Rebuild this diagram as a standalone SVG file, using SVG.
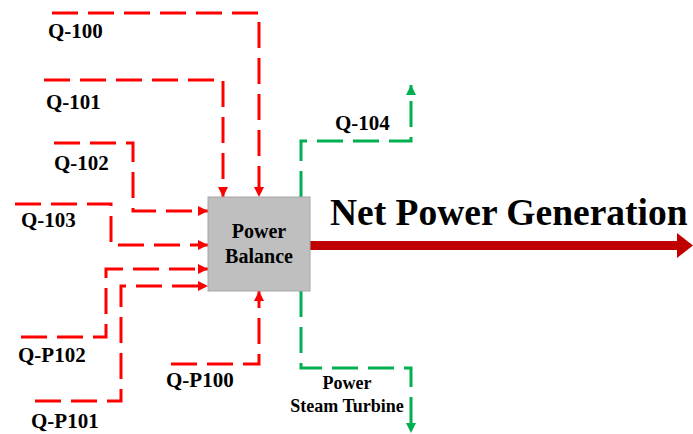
<svg xmlns="http://www.w3.org/2000/svg" width="693" height="434" viewBox="0 0 693 434">
<style>
.lbl{font-family:"Liberation Serif","Times New Roman",serif;font-weight:bold;fill:#000;font-size:21px}
.red{fill:none;stroke:#ff0000;stroke-width:3;stroke-dasharray:26 10}
.grn{fill:none;stroke:#00b050;stroke-width:3;stroke-dasharray:26 10}
</style>
<defs>
<marker id="ar" viewBox="0 0 10 10" refX="10" refY="5" markerWidth="10" markerHeight="10" markerUnits="userSpaceOnUse" orient="auto"><path d="M0,0 L10,5 L0,10 z" fill="#ff0000"/></marker>
<marker id="ag" viewBox="0 0 10 10" refX="10" refY="5" markerWidth="10" markerHeight="10" markerUnits="userSpaceOnUse" orient="auto"><path d="M0,0 L10,5 L0,10 z" fill="#00b050"/></marker>
</defs>
<rect width="693" height="434" fill="#fff"/>
<g id="connectors">
<path id="c-q100" class="red" d="M52,13 H259 V197" marker-end="url(#ar)"/>
<path id="c-q101" class="red" d="M44,80 H223 V197" marker-end="url(#ar)"/>
<path id="c-q102" class="red" d="M54,143 H133 V211 H208" marker-end="url(#ar)"/>
<path id="c-q103" class="red" d="M15,204 H111 V245 H208" marker-end="url(#ar)"/>
<path id="c-qp102" class="red" d="M21,337 H106 V269 H208" marker-end="url(#ar)"/>
<path id="c-qp101" class="red" d="M35,401 H121 V286 H208" marker-end="url(#ar)"/>
<path id="c-qp100" class="red" d="M171,364 H259 V291" marker-end="url(#ar)"/>
<path id="c-q104" class="grn" d="M301,197 V141 H411 V85" marker-end="url(#ag)"/>
<path id="c-steam" class="grn" d="M301,291 V368 H411 V433" marker-end="url(#ag)"/>
<g id="c-net">
<rect x="310" y="241" width="370" height="9" fill="#c00000"/>
<polygon points="677,233 693,245.5 677,258" fill="#c00000"/>
</g>
</g>
<g id="power-balance">
<rect x="208" y="197" width="102" height="94" fill="#bfbfbf" stroke="#a6a6a6" stroke-width="1"/>
<text class="lbl" x="259" y="238" text-anchor="middle" style="font-size:20px">Power</text>
<text class="lbl" x="259" y="263" text-anchor="middle" style="font-size:20px">Balance</text>
</g>
<g id="labels">
<text id="t-q100" class="lbl" x="48" y="38">Q-100</text>
<text id="t-q101" class="lbl" x="46" y="109">Q-101</text>
<text id="t-q102" class="lbl" x="54" y="170">Q-102</text>
<text id="t-q103" class="lbl" x="21" y="227">Q-103</text>
<text id="t-qp102" class="lbl" x="18" y="362">Q-P102</text>
<text id="t-qp100" class="lbl" x="166" y="387">Q-P100</text>
<text id="t-qp101" class="lbl" x="31" y="428">Q-P101</text>
<text id="t-q104" class="lbl" x="335" y="130">Q-104</text>
<text id="t-steam1" class="lbl" x="347" y="389" text-anchor="middle" style="font-size:18px">Power</text>
<text id="t-steam2" class="lbl" x="347" y="412" text-anchor="middle" style="font-size:18px">Steam Turbine</text>
<text id="t-net" class="lbl" x="330" y="225" style="font-size:37.5px">Net Power Generation</text>
</g>
</svg>
